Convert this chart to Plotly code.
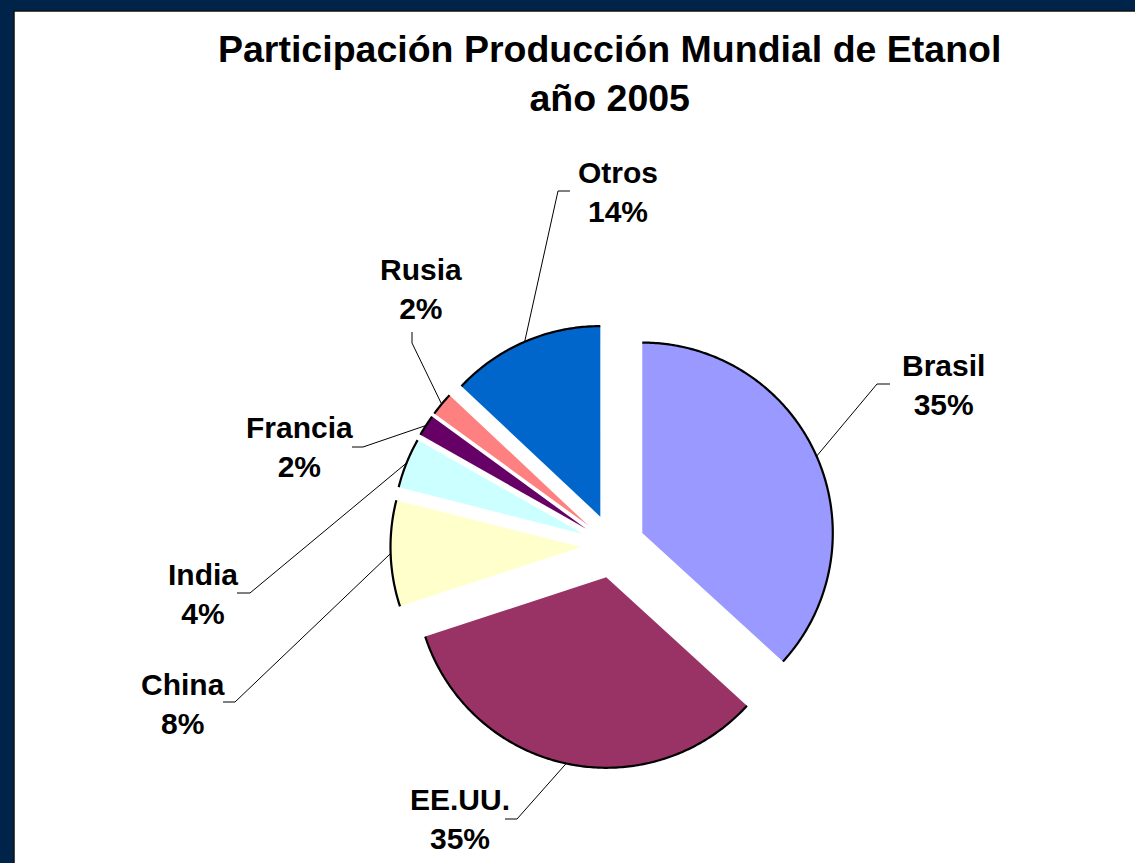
import math
import plotly.graph_objects as go

# ---------------- data ----------------
countries = ["Brasil", "EE.UU.", "China", "India", "Francia", "Rusia", "Otros"]
# slice sizes as drawn in the picture (share of the full circle, %)
slice_share = [36.8, 33.2, 9.0, 4.25, 1.8, 2.0, 13.0]
# percentages printed on the labels
pct_labels = [35, 35, 8, 4, 2, 2, 14]
slice_colors = ["#9999FF", "#993366", "#FFFFCC", "#CCFFFF", "#660066", "#FF8080", "#0066CC"]
title_lines = ["Participación Producción Mundial de Etanol", "año 2005"]

# ---------------- layout / style ----------------
W, H = 1135, 863
CX, CY, R = 613.0, 546.0, 190.5          # pie centre and radius in page pixels
PULL = 0.168
# label block centres (pixels) and leader-line elbow points (text end, elbow)
label_xy = [(943, 385), (460, 819), (183, 704), (203, 594), (299, 447), (421, 289), (618, 192)]
leader_pts = [((890, 384), (877, 384)), ((505, 819), (517, 819)), ((223, 702), (235, 702)),
              ((237, 593), (250, 593)), ((352, 447), (363, 447)), ((412, 332), (412, 343)),
              ((570, 191), (558, 191))]
NAVY = "#00234A"
FONT = "Liberation Sans, Arial, sans-serif"

half = R * (1 + PULL)
dom_x = [(CX - half) / W, (CX + half) / W]
dom_y = [(H - CY - half) / H, (H - CY + half) / H]

fig = go.Figure()
fig.add_trace(go.Pie(
    labels=countries, values=slice_share, sort=False, direction="clockwise", rotation=0,
    marker=dict(colors=slice_colors, line=dict(width=0)),
    pull=PULL, textinfo="none", hoverinfo="label", showlegend=False,
    domain=dict(x=dom_x, y=dom_y),
))

shapes = [dict(type="rect", xref="x", yref="y", x0=14, y0=11, x1=W + 5, y1=H + 5,
               fillcolor="white", line=dict(color="#111111", width=1.5), layer="below")]
annotations = []

total = float(sum(slice_share))
cum = 0.0
for i, v in enumerate(slice_share):
    a0 = 360.0 * cum / total
    a1 = 360.0 * (cum + v) / total
    am = 0.5 * (a0 + a1)
    cum += v
    rm = math.radians(am)
    vx = CX + PULL * R * math.sin(rm)
    vy = CY - PULL * R * math.cos(rm)
    # outer arc outline
    n = max(8, int((a1 - a0) * 1.5))
    pts = []
    for k in range(n + 1):
        t = math.radians(a0 + (a1 - a0) * k / n)
        pts.append((vx + R * math.sin(t), vy - R * math.cos(t)))
    path = "M " + " L ".join(f"{x:.2f},{y:.2f}" for x, y in pts)
    shapes.append(dict(type="path", xref="x", yref="y", path=path,
                       line=dict(color="black", width=2.2), layer="above"))
    # leader line
    mx, my = vx + R * math.sin(rm), vy - R * math.cos(rm)
    (tx, ty), (ex, ey) = leader_pts[i]
    shapes.append(dict(type="path", xref="x", yref="y",
                       path=f"M {tx},{ty} L {ex},{ey} L {mx:.2f},{my:.2f}",
                       line=dict(color="black", width=1), layer="above"))
    lx, ly = label_xy[i]
    annotations.append(dict(x=lx, y=ly, xref="x", yref="y", showarrow=False,
                            text=f"<b>{countries[i]}<br>{pct_labels[i]}%</b>",
                            font=dict(family=FONT, size=30, color="black"),
                            xanchor="center", yanchor="middle", align="center"))

annotations.append(dict(x=609, y=73, xref="x", yref="y", showarrow=False,
                        text="<b>" + "<br>".join(title_lines) + "</b>",
                        font=dict(family=FONT, size=37.5, color="black"),
                        xanchor="center", yanchor="middle", align="center"))

fig.update_layout(
    width=W, height=H, margin=dict(l=0, r=0, t=0, b=0),
    paper_bgcolor=NAVY, plot_bgcolor="rgba(0,0,0,0)",
    xaxis=dict(range=[0, W], visible=False, fixedrange=True, domain=[0, 1]),
    yaxis=dict(range=[H, 0], visible=False, fixedrange=True, domain=[0, 1]),
    shapes=shapes, annotations=annotations, showlegend=False,
)

fig.write_html(
    "out.html",
    config={"displayModeBar": False},
    post_script="document.body.style.margin='0';document.body.style.padding='0';"
                "document.body.style.overflow='hidden';document.body.style.background='" + NAVY + "';",
)
